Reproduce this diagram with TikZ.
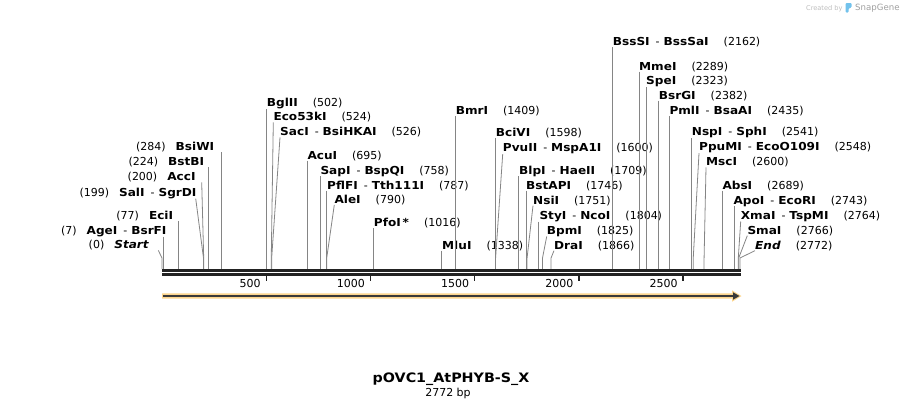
\documentclass[tikz,border=0pt]{standalone}
\usepackage{fontspec}
\setmainfont{DejaVu Sans}[BoldFeatures={FakeStretch=1.1},BoldItalicFeatures={FakeStretch=1.1}]
\usetikzlibrary{positioning, calc}
\definecolor{cutgray}{HTML}{858585}
\definecolor{axisdark}{HTML}{222222}
\definecolor{bandorange}{HTML}{FCD58E}
\definecolor{bandline}{HTML}{3A3A3A}
\definecolor{markgray}{HTML}{BDBDBD}
\definecolor{markblue}{HTML}{72C2EC}
\newcommand{\bpx}[1]{162+0.2085*#1}
\newcommand{\numgap}{\hspace{15pt}}
\newcommand{\lgap}{\hspace{10pt}}
\newcommand{\sep}{\hspace{6pt}-\hspace{4pt}}
\tikzset{enz/.style={inner sep=0pt, font=\fontsize{11}{13}\selectfont},
	enzR/.style={enz, anchor=base west},
	enzL/.style={enz, anchor=base east},
	cut/.style={draw=cutgray, line width=0.8pt}}

\begin{document}
\begin{tikzpicture}[x=1pt, y=-1pt]
		\useasboundingbox (0,0) rectangle (903,408);
		% cut sites
		\coordinate (axis) at (162,269);
		\coordinate (c0) at ({\bpx{0}},258);
		\coordinate (c7) at ({\bpx{7}},258);
		\coordinate (c77) at ({\bpx{77}},258);
		\coordinate (c199) at ({\bpx{199}},258);
		\coordinate (c200) at ({\bpx{200}},258);
		\coordinate (c224) at ({\bpx{224}},258);
		\coordinate (c284) at ({\bpx{284}},258);
		\coordinate (c502) at ({\bpx{502}},258);
		\coordinate (c524) at ({\bpx{524}},258);
		\coordinate (c526) at ({\bpx{526}},258);
		\coordinate (c695) at ({\bpx{695}},258);
		\coordinate (c758) at ({\bpx{758}},258);
		\coordinate (c787) at ({\bpx{787}},258);
		\coordinate (c790) at ({\bpx{790}},258);
		\coordinate (c1016) at ({\bpx{1016}},258);
		\coordinate (c1338) at ({\bpx{1338}},258);
		\coordinate (c1409) at ({\bpx{1409}},258);
		\coordinate (c1598) at ({\bpx{1598}},258);
		\coordinate (c1600) at ({\bpx{1600}},258);
		\coordinate (c1709) at ({\bpx{1709}},258);
		\coordinate (c1746) at ({\bpx{1746}},258);
		\coordinate (c1751) at ({\bpx{1751}},258);
		\coordinate (c1804) at ({\bpx{1804}},258);
		\coordinate (c1825) at ({\bpx{1825}},258);
		\coordinate (c1866) at ({\bpx{1866}},258);
		\coordinate (c2162) at ({\bpx{2162}},258);
		\coordinate (c2289) at ({\bpx{2289}},258);
		\coordinate (c2323) at ({\bpx{2323}},258);
		\coordinate (c2382) at ({\bpx{2382}},258);
		\coordinate (c2435) at ({\bpx{2435}},258);
		\coordinate (c2541) at ({\bpx{2541}},258);
		\coordinate (c2548) at ({\bpx{2548}},258);
		\coordinate (c2600) at ({\bpx{2600}},258);
		\coordinate (c2689) at ({\bpx{2689}},258);
		\coordinate (c2743) at ({\bpx{2743}},258);
		\coordinate (c2764) at ({\bpx{2764}},258);
		\coordinate (c2766) at ({\bpx{2766}},258);
		\coordinate (c2772) at ({\bpx{2772}},258);
		% labels left of their line
		\node[enzL] (bsiwi) at (214.3,150.7) {(284)\lgap\textbf{BsiWI}};
		\node[enzL] (bstbi) at (204.3,165.7) {(224)\lgap\textbf{BstBI}};
		\node[enzL] (acci) at (195.7,180.7) {(200)\lgap\textbf{AccI}};
		\node[enzL] (sali) at (196.7,196) {(199)\lgap\textbf{SalI}\sep\textbf{SgrDI}};
		\node[enzL] (ecii) at (173.3,219.3) {(77)\lgap\textbf{EciI}};
		\node[enzL] (agei) at (166.7,234) {(7)\lgap\textbf{AgeI}\sep\textbf{BsrFI}};
		\node[enzL] (start) at (149.3,248.7) {(0)\lgap\textbf{\textit{Start}}};
		% labels right of their line
		\node[enzR] (bglii) at (266.7,106.7) {\textbf{BglII}\numgap(502)};
		\node[enzR] (eco53ki) at (273.3,120.7) {\textbf{Eco53kI}\numgap(524)};
		\node[enzR] (saci) at (280,135.7) {\textbf{SacI}\sep\textbf{BsiHKAI}\numgap(526)};
		\node[enzR] (acui) at (307.3,159) {\textbf{AcuI}\numgap(695)};
		\node[enzR] (sapi) at (320.3,174) {\textbf{SapI}\sep\textbf{BspQI}\numgap(758)};
		\node[enzR] (pflfi) at (327,189) {\textbf{PflFI}\sep\textbf{Tth111I}\numgap(787)};
		\node[enzR] (alei) at (334.3,203.3) {\textbf{AleI}\numgap(790)};
		\node[enzR] (pfoi) at (373.7,226.7) {\textbf{PfoI\,*}\numgap(1016)};
		\node[enzR] (mlui) at (442,249) {\textbf{MluI}\numgap(1338)};
		\node[enzR] (bmri) at (455.7,114.3) {\textbf{BmrI}\numgap(1409)};
		\node[enzR] (bcivi) at (495.7,136.7) {\textbf{BciVI}\numgap(1598)};
		\node[enzR] (pvuii) at (502.7,151.7) {\textbf{PvuII}\sep\textbf{MspA1I}\numgap(1600)};
		\node[enzR] (blpi) at (519,174) {\textbf{BlpI}\sep\textbf{HaeII}\numgap(1709)};
		\node[enzR] (bstapi) at (526,189) {\textbf{BstAPI}\numgap(1746)};
		\node[enzR] (nsii) at (533,204) {\textbf{NsiI}\numgap(1751)};
		\node[enzR] (styi) at (539.3,219) {\textbf{StyI}\sep\textbf{NcoI}\numgap(1804)};
		\node[enzR] (bpmi) at (546.7,234) {\textbf{BpmI}\numgap(1825)};
		\node[enzR] (drai) at (554,249) {\textbf{DraI}\numgap(1866)};
		\node[enzR] (bsssi) at (612.7,45.7) {\textbf{BssSI}\sep\textbf{BssSaI}\numgap(2162)};
		\node[enzR] (mmei) at (639,70) {\textbf{MmeI}\numgap(2289)};
		\node[enzR] (spei) at (646,84.3) {\textbf{SpeI}\numgap(2323)};
		\node[enzR] (bsrgi) at (658.7,99) {\textbf{BsrGI}\numgap(2382)};
		\node[enzR] (pmli) at (669.3,114.3) {\textbf{PmlI}\sep\textbf{BsaAI}\numgap(2435)};
		\node[enzR] (nspi) at (691.7,135.7) {\textbf{NspI}\sep\textbf{SphI}\numgap(2541)};
		\node[enzR] (ppumi) at (699,150.7) {\textbf{PpuMI}\sep\textbf{EcoO109I}\numgap(2548)};
		\node[enzR] (msci) at (706,165.7) {\textbf{MscI}\numgap(2600)};
		\node[enzR] (absi) at (722.3,189) {\textbf{AbsI}\numgap(2689)};
		\node[enzR] (apoi) at (733.3,204) {\textbf{ApoI}\sep\textbf{EcoRI}\numgap(2743)};
		\node[enzR] (xmai) at (740.7,219) {\textbf{XmaI}\sep\textbf{TspMI}\numgap(2764)};
		\node[enzR] (smai) at (747.3,234) {\textbf{SmaI}\numgap(2766)};
		\node[enzR] (finish) at (755,249) {\textbf{\textit{End}}\numgap(2772)};
		% lines down to the map
		\draw[cut] (c284 |- bsiwi.south) -- (c284 |- axis);
		\draw[cut] (c224 |- bstbi.south) -- (c224 |- axis);
		\draw[cut] ([xshift=6pt]acci.south east) -- (c200) -- (c200 |- axis);
		\draw[cut] ([xshift=-1pt]sali.south east) -- (c199) -- (c199 |- axis);
		\draw[cut] (c77 |- ecii.south) -- (c77 |- axis);
		\draw[cut] (c7 |- agei.south) -- (c7 |- axis);
		\draw[cut] ([xshift=9pt]start.south east) -- (c0) -- (c0 |- axis);
		\draw[cut] (c502 |- bglii.south) -- (c502 |- axis);
		\draw[cut] (eco53ki.south west) -- (c524) -- (c524 |- axis);
		\draw[cut] (saci.south west) -- (c526) -- (c526 |- axis);
		\draw[cut] (c695 |- acui.south) -- (c695 |- axis);
		\draw[cut] (c758 |- sapi.south) -- (c758 |- axis);
		\draw[cut] (c787 |- pflfi.south) -- (c787 |- axis);
		\draw[cut] (alei.south west) -- (c790) -- (c790 |- axis);
		\draw[cut] (c1016 |- pfoi.south) -- (c1016 |- axis);
		\draw[cut] (c1338 |- mlui.south) -- (c1338 |- axis);
		\draw[cut] (c1409 |- bmri.south) -- (c1409 |- axis);
		\draw[cut] (c1598 |- bcivi.south) -- (c1598 |- axis);
		\draw[cut] (pvuii.south west) -- (c1600) -- (c1600 |- axis);
		\draw[cut] (c1709 |- blpi.south) -- (c1709 |- axis);
		\draw[cut] (c1746 |- bstapi.south) -- (c1746 |- axis);
		\draw[cut] (nsii.south west) -- (c1751) -- (c1751 |- axis);
		\draw[cut] (c1804 |- styi.south) -- (c1804 |- axis);
		\draw[cut] (bpmi.south west) -- (c1825) -- (c1825 |- axis);
		\draw[cut] (drai.south west) -- (c1866) -- (c1866 |- axis);
		\draw[cut] (c2162 |- bsssi.south) -- (c2162 |- axis);
		\draw[cut] (c2289 |- mmei.south) -- (c2289 |- axis);
		\draw[cut] (c2323 |- spei.south) -- (c2323 |- axis);
		\draw[cut] (c2382 |- bsrgi.south) -- (c2382 |- axis);
		\draw[cut] (c2435 |- pmli.south) -- (c2435 |- axis);
		\draw[cut] (c2541 |- nspi.south) -- (c2541 |- axis);
		\draw[cut] (ppumi.south west) -- (c2548) -- (c2548 |- axis);
		\draw[cut] (msci.south west) -- (c2600) -- (c2600 |- axis);
		\draw[cut] (c2689 |- absi.south) -- (c2689 |- axis);
		\draw[cut] (c2743 |- apoi.south) -- (c2743 |- axis);
		\draw[cut] (xmai.south west) -- (c2764) -- (c2764 |- axis);
		\draw[cut] (smai.south west) -- (c2766) -- (c2766 |- axis);
		\draw[cut] (finish.south west) -- (c2772) -- (c2772 |- axis);
		% the map itself
		\draw[axisdark, line width=3pt] (162,270.5) -- (740.7,270.5);
		\draw[axisdark, line width=2.7pt] (162,274.4) -- (740.7,274.4);
		\draw[axisdark, line width=1.5pt] ({\bpx{500}},275) -- ({\bpx{500}},280.5);
		\draw[axisdark, line width=1.5pt] ({\bpx{1000}},275) -- ({\bpx{1000}},280.5);
		\draw[axisdark, line width=1.5pt] ({\bpx{1500}},275) -- ({\bpx{1500}},280.5);
		\draw[axisdark, line width=1.5pt] ({\bpx{2000}},275) -- ({\bpx{2000}},280.5);
		\draw[axisdark, line width=1.5pt] ({\bpx{2500}},275) -- ({\bpx{2500}},280.5);
		\node[enzL] (t500) at ({\bpx{500}-5.5},287) {500};
		\node[enzL] (t1000) at ({\bpx{1000}-5.5},287) {1000};
		\node[enzL] (t1500) at ({\bpx{1500}-5.5},287) {1500};
		\node[enzL] (t2000) at ({\bpx{2000}-5.5},287) {2000};
		\node[enzL] (t2500) at ({\bpx{2500}-5.5},287) {2500};
		% feature arrow
		\fill[bandorange] (162,293.3) -- (732,293.3) -- (732,290.3) -- (741.5,296) -- (732,301.7) -- (732,298.7) -- (162,298.7) -- cycle;
		\draw[bandline, line width=1.7pt] (163,296) -- (734,296);
		\fill[bandline] (733,292.3) -- (739.5,296) -- (733,299.7) -- cycle;
		% name and size
		\node[anchor=base, inner sep=0pt, font=\bfseries\fontsize{13}{15}\selectfont] (title) at (451,382.7) {pOVC1\_AtPHYB-S\_X};
		\node[anchor=base, inner sep=0pt, font=\fontsize{11}{13}\selectfont] (size) at (448,396) {2772 bp};
		% watermark
		\node[anchor=base west, inner sep=0pt, text=markgray, font=\fontsize{6.6}{8}\selectfont] (made) at (806,10.5) {Created by};
		\fill[markblue, rounded corners=1pt] (845.5,3) -- (851.5,3) -- (851.5,7.5) -- (848.5,8.5) -- (848.5,12.5) -- (845.5,12.5) -- cycle;
		\node[anchor=base west, inner sep=0pt, text=gray!75, font=\fontsize{8.6}{10}\selectfont] (brand) at (855,10.8) {SnapGene};
	\end{tikzpicture}
\end{document}
